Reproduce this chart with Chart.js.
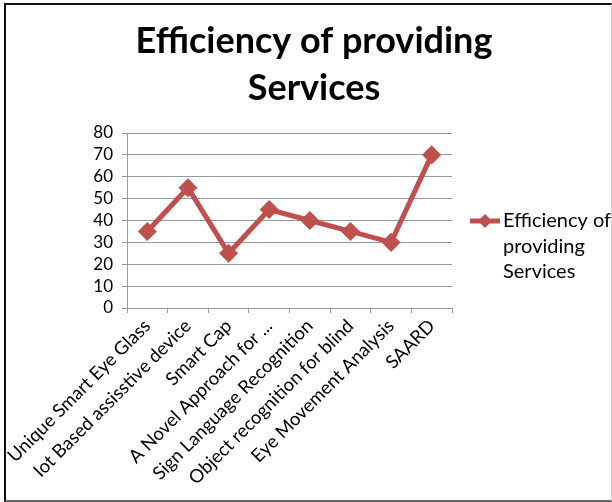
<!DOCTYPE html>
<html>
<head>
<meta charset="utf-8">
<script src="https://cdn.jsdelivr.net/npm/chart.js@4/dist/chart.umd.min.js"></script>
<style>
  body { margin: 0; background: #fff; }
  #wrap { position: absolute; left: 0; top: 0; width: 612px; height: 502px; }
  #frame {
    position: absolute; left: 4px; top: 3px; width: 605px; height: 495px;
    border-left: 2px solid #111; border-top: 2px solid #111;
    border-right: 1px solid #ccc; border-bottom: 2px solid #666;
    pointer-events: none;
  }
</style>
</head>
<body>
<div id="wrap">
  <canvas id="graph1" width="612" height="502"></canvas>
  <div id="frame"></div>
</div>
<script>
  // chart data
  const categories = [
    'Unique Smart Eye Glass',
    'Iot Based assisstive device',
    'Smart Cap',
    'A Novel Approach for ...',
    'Sign Language Recognition',
    'Object recognition for blind',
    'Eye Movement Analysis',
    'SAARD'
  ]
  const seriesName = 'Efficiency of providing Services'
  const efficiency = [35, 55, 25, 45, 40, 35, 30, 70]
  const yTicks = [0, 10, 20, 30, 40, 50, 60, 70, 80]
  const titleLines = ['Efficiency of providing', 'Services']
  const legendLines = ['Efficiency of', 'providing', 'Services']

  const red = '#C0504D'
  const font = 'Lato, "Open Sans", sans-serif'

  // title + legend drawn by hand (Excel style)
  const extras = {
    id: 'extras',
    afterDraw(chart) {
      const c = chart.ctx
      c.save()
      c.fillStyle = '#000'
      c.textAlign = 'center'
      c.textBaseline = 'middle'
      c.font = 'bold 36px ' + font
      c.fillText(titleLines[0], 314, 41)
      c.fillText(titleLines[1], 314, 88)

      // legend
      c.strokeStyle = red
      c.lineWidth = 5
      c.beginPath()
      c.moveTo(470, 221)
      c.lineTo(500, 221)
      c.stroke()
      c.fillStyle = red
      c.beginPath()
      c.moveTo(485, 214); c.lineTo(492, 221); c.lineTo(485, 228); c.lineTo(478, 221)
      c.closePath()
      c.fill()
      c.fillStyle = '#000'
      c.textAlign = 'left'
      c.font = '20px ' + font
      legendLines.forEach((t, i) => c.fillText(t, 503, 221 + i * 25.5))
      c.restore()
    }
  }

  const ctx = document.getElementById('graph1')
  new Chart(ctx, {
    type: 'line',
    data: {
      labels: categories,
      datasets: [{
        label: seriesName,
        data: efficiency,
        borderColor: red,
        backgroundColor: red,
        borderWidth: 5,
        pointStyle: 'rectRot',
        pointRadius: 6,
        pointHoverRadius: 6,
        tension: 0
      }]
    },
    options: {
      responsive: false,
      animation: false,
      events: [],
      layout: { padding: { left: 0, right: 160, top: 133, bottom: 0 } },
      plugins: {
        legend: { display: false },
        title: { display: false },
        tooltip: { enabled: false }
      },
      scales: {
        x: {
          offset: true,
          afterFit: s => { s.height = 194 },
          grid: { offset: true, drawOnChartArea: false, tickLength: 5, color: '#999' },
          border: { color: '#999', width: 1 },
          ticks: {
            autoSkip: false, minRotation: 45, maxRotation: 45, padding: 2,
            color: '#000', font: { family: font, size: 18.5 }
          }
        },
        y: {
          min: 0, max: 80,
          afterFit: s => { s.width = 127 },
          afterBuildTicks: s => { s.ticks = yTicks.map(v => ({ value: v })) },
          grid: { color: '#999', tickLength: 5 },
          border: { color: '#999', width: 1 },
          ticks: { autoSkip: false, stepSize: 10, padding: 9, color: '#000', font: { family: font, size: 17 } }
        }
      }
    },
    plugins: [extras]
  })
</script>
</body>
</html>
